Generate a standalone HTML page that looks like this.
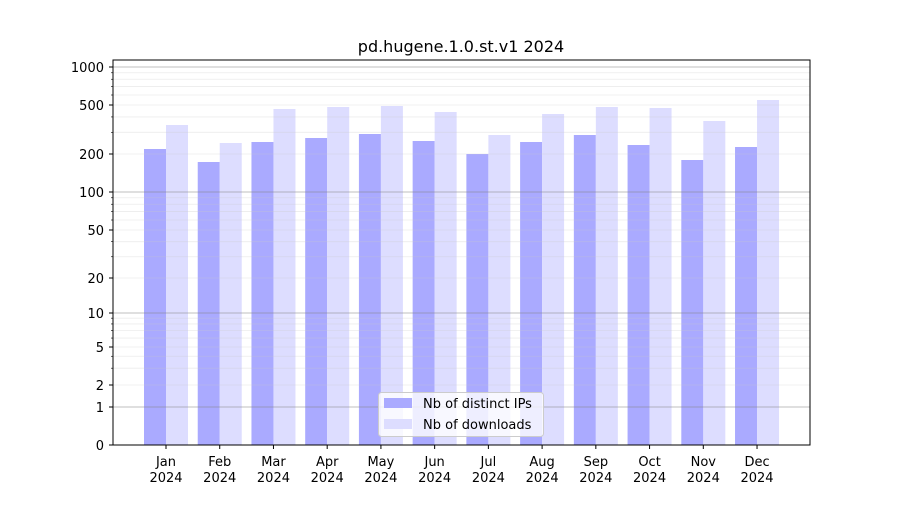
<!DOCTYPE html>
<html><head><meta charset="utf-8"><style>
html,body{margin:0;padding:0;background:#fff;}
svg text{font-family:"DejaVu Sans","Liberation Sans",sans-serif;fill:#000;}
</style></head><body>
<svg id="s" width="900" height="500" xmlns="http://www.w3.org/2000/svg">
<rect width="900" height="500" fill="#fff"/>
<g id="bars"></g>
<g id="grid"></g>
<rect x="113" y="60" width="697" height="385" fill="none" stroke="#000" stroke-width="1"/>
<g id="ticks"></g>
<text x="461" y="52" font-size="16" text-anchor="middle">pd.hugene.1.0.st.v1 2024</text>
<g>
<rect x="378.5" y="392.5" width="165" height="44" rx="3" fill="#fff" fill-opacity="0.8" stroke="#ccc"/>
<rect x="384" y="398" width="28" height="10" fill="#aaaaff"/>
<rect x="384" y="419" width="28" height="10" fill="#ddddff"/>
<text x="423" y="408" font-size="13">Nb of distinct IPs</text>
<text x="423" y="429" font-size="13">Nb of downloads</text>
</g>
</svg>
<script>
var A=[[1,407],[2,385],[5,347],[10,313],[20,278],[50,230],[100,192],[200,154],[500,105],[1000,67]];
function Y(v){if(v<=0)return 445;for(var i=0;i<A.length-1;i++){var a=A[i],b=A[i+1];if(v<=b[0]){var t=(Math.log10(v)-Math.log10(a[0]))/(Math.log10(b[0])-Math.log10(a[0]));return a[1]+t*(b[1]-a[1]);}}return 67;}
var g='',t='';
for(var d=1;d<=1000;d*=10){for(var k=1;k<10;k++){var v=d*k;if(v>1000)break;var y=Y(v);var maj=(k==1);
g+='<line x1="113" x2="810" y1="'+y+'" y2="'+y+'" stroke="'+(maj?'#808080':'#c8c8c8')+'" stroke-opacity="'+(maj?0.5:0.35)+'" stroke-width="'+(maj?1:0.8)+'"/>';
t+='<line x1="'+(maj?109:111)+'" x2="113" y1="'+y+'" y2="'+y+'" stroke="#000" stroke-width="'+(maj?1:0.6)+'"/>';}}
var labs=[[0,445],[1,407],[2,385],[5,347],[10,313],[20,278],[50,230],[100,192],[200,154],[500,105],[1000,67]];
labs.forEach(function(l){t+='<line x1="109" x2="113" y1="'+l[1]+'" y2="'+l[1]+'" stroke="#000"/><text x="104" y="'+(l[1]+5)+'" font-size="13" text-anchor="end">'+l[0]+'</text>';});
var ip=[149,162,142,138,134,141,154,142,135,145,160,147];
var dl=[125,143,109,107,106,112,135,114,107,108,121,100];
var m=['Jan','Feb','Mar','Apr','May','Jun','Jul','Aug','Sep','Oct','Nov','Dec'];
var b='';
for(var i=0;i<12;i++){var x=144+i*53.73;
b+='<rect x="'+x+'" y="'+ip[i]+'" width="22" height="'+(445-ip[i])+'" fill="#aaaaff"/>';
b+='<rect x="'+(x+22)+'" y="'+dl[i]+'" width="22" height="'+(445-dl[i])+'" fill="#ddddff"/>';
var c=x+22;
t+='<line x1="'+c+'" x2="'+c+'" y1="445" y2="449" stroke="#000"/>';
t+='<text x="'+c+'" y="466" font-size="13" text-anchor="middle">'+m[i]+'</text><text x="'+c+'" y="482" font-size="13" text-anchor="middle">2024</text>';}
document.getElementById('grid').innerHTML=g;
document.getElementById('bars').innerHTML=b;
document.getElementById('ticks').innerHTML=t;
</script>
</body></html>
